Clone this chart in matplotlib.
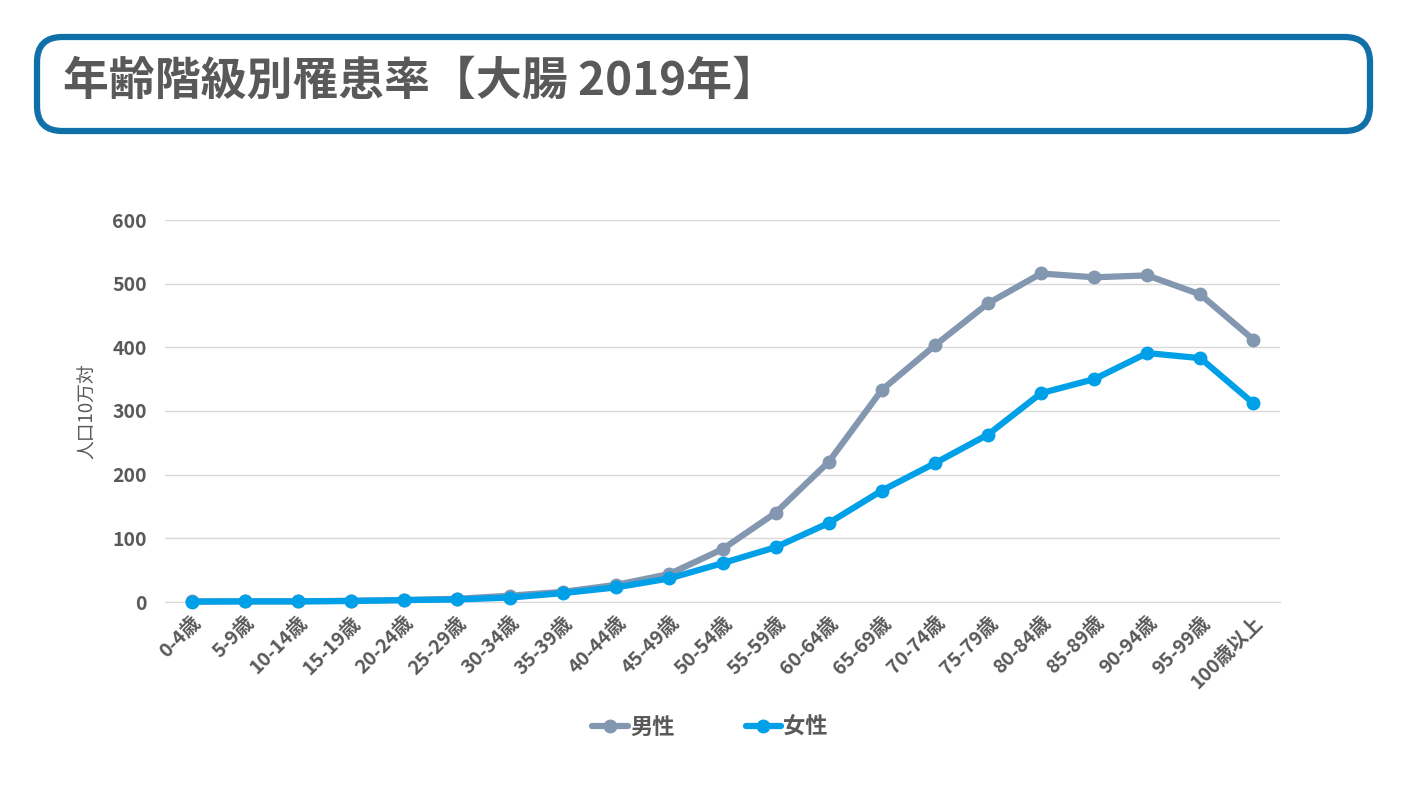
import matplotlib
matplotlib.use("Agg")
import matplotlib.pyplot as plt
from matplotlib.patches import FancyBboxPatch

plt.rcParams['font.family'] = ['Noto Sans CJK JP', 'DejaVu Sans']

# データ
age_groups = ["0-4歳", "5-9歳", "10-14歳", "15-19歳", "20-24歳", "25-29歳",
              "30-34歳", "35-39歳", "40-44歳", "45-49歳", "50-54歳", "55-59歳",
              "60-64歳", "65-69歳", "70-74歳", "75-79歳", "80-84歳", "85-89歳",
              "90-94歳", "95-99歳", "100歳以上"]
male = [1, 1, 1, 2, 3, 5, 10, 16, 27, 44, 83, 140, 220, 333, 403, 469,
        516, 510, 513, 483, 412]
female = [0.5, 1, 1, 1.5, 3, 4, 7, 14, 23, 37, 61, 86, 124, 175, 218, 263,
          328, 350, 391, 383, 312]
yticks = [0, 100, 200, 300, 400, 500, 600]

gray_txt = "#595959"
c_male = "#8497B0"
c_female = "#00A0E9"

fig = plt.figure(figsize=(14.05, 7.91), dpi=100)

# タイトル枠
box = FancyBboxPatch((37 / 1405, 1 - 131 / 791), 1333 / 1405, 94 / 791,
                     boxstyle="round,pad=0,rounding_size=0.018",
                     transform=fig.transFigure, facecolor="white",
                     edgecolor="#1070A8", linewidth=4.5, mutation_aspect=1405 / 791)
fig.patches.append(box)
fig.text(63 / 1405, 1 - 82 / 791, "年齢階級別罹患率【大腸 2019年】",
         fontsize=33, fontweight="bold", color=gray_txt, va="center", ha="left")

ax = fig.add_axes([165 / 1405, 1 - 602 / 791, 1115 / 1405, 382 / 791])
x = range(len(age_groups))
ax.plot(x, male, color=c_male, lw=4.5, marker="o", ms=9, label="男性",
        solid_capstyle="round", clip_on=False, zorder=3)
ax.plot(x, female, color=c_female, lw=4.5, marker="o", ms=9, label="女性",
        solid_capstyle="round", clip_on=False, zorder=4)

ax.set_xlim(-0.5, len(age_groups) - 0.5)
ax.set_ylim(0, 600)
ax.set_yticks(yticks)
ax.set_xticks(list(x))
ax.set_xticklabels(age_groups, rotation=45, ha="right", rotation_mode="anchor")
ax.tick_params(length=0, labelsize=14, labelcolor=gray_txt)
ax.tick_params(axis="y", pad=13)
ax.tick_params(axis="x", pad=8)
for lab in ax.get_xticklabels() + ax.get_yticklabels():
    lab.set_fontweight("bold")

ax.grid(axis="y", color="#D9D9D9", lw=1)
ax.set_axisbelow(True)
for s in ["top", "right", "left"]:
    ax.spines[s].set_visible(False)
ax.spines["bottom"].set_color("#D9D9D9")

ax.set_ylabel("人口10万対", fontsize=13.5, color=gray_txt, labelpad=10)

leg = fig.legend(loc="center", bbox_to_anchor=(710 / 1405, 1 - 727 / 791),
                 ncol=2, frameon=False, fontsize=16, handlelength=1.6,
                 handletextpad=0.1, columnspacing=3.2)
for t in leg.get_texts():
    t.set_color(gray_txt)
    t.set_fontweight("bold")

fig.savefig("out.png", dpi=100)
